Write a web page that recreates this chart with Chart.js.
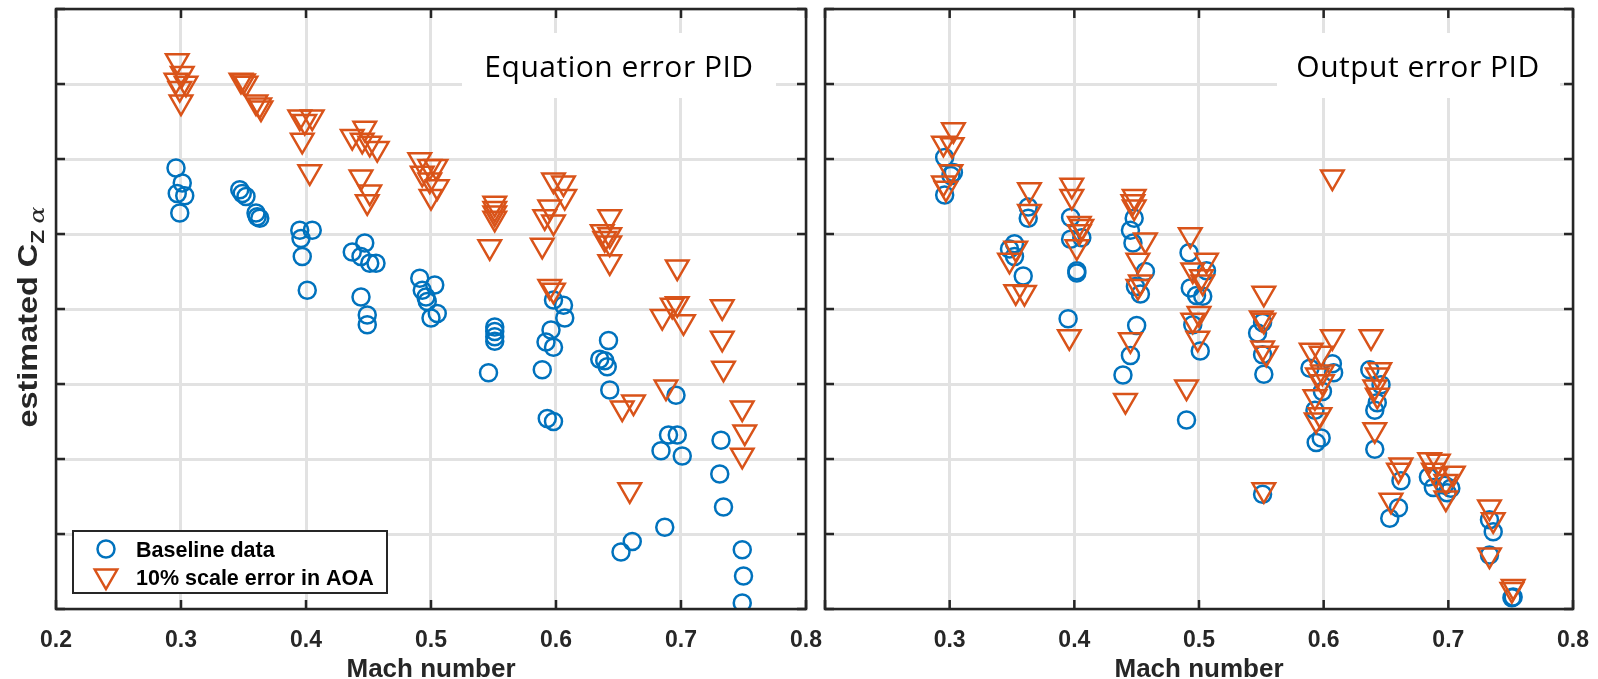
<!DOCTYPE html>
<html>
<head>
<meta charset="utf-8">
<title>Estimated CZ alpha vs Mach number</title>
<script src="https://cdn.jsdelivr.net/npm/chart.js@4.4.0/dist/chart.umd.min.js"></script>
<style>
  html, body { margin: 0; padding: 0; background: #fff; }
  #wrap { position: relative; width: 1598px; height: 679px; overflow: hidden; }
  canvas { position: absolute; top: 0; }
  #eqChart { left: 0; }
  #oeChart { left: 815px; }
</style>
</head>
<body>
<div id="wrap">
  <canvas id="eqChart" width="840" height="679"></canvas>
  <canvas id="oeChart" width="783" height="679"></canvas>
</div>
<script>
// Axis ticks (y axis is unlabelled, arbitrary units)
const machTicks = [0.2, 0.3, 0.4, 0.5, 0.6, 0.7, 0.8];
const czTicks = [0, 1, 2, 3, 4, 5, 6, 7, 8];

// Equation error PID - baseline data
const eqBaseMach = [0.296, 0.301, 0.297, 0.303, 0.299, 0.347, 0.349, 0.352, 0.360, 0.361, 0.363,
  0.395, 0.405, 0.396, 0.397, 0.401, 0.447, 0.437, 0.444, 0.451, 0.456, 0.444, 0.449, 0.449,
  0.491, 0.503, 0.493, 0.496, 0.497, 0.505, 0.500, 0.551, 0.551, 0.551, 0.551, 0.546,
  0.598, 0.606, 0.607, 0.596, 0.592, 0.598, 0.589, 0.593, 0.598, 0.642, 0.635, 0.639, 0.641, 0.643,
  0.661, 0.652, 0.696, 0.690, 0.697, 0.684, 0.701, 0.687, 0.732, 0.731, 0.734, 0.749, 0.750, 0.749];
const eqBaseCz = [5.88, 5.68, 5.54, 5.51, 5.28, 5.59, 5.54, 5.50, 5.28, 5.23, 5.21,
  5.05, 5.05, 4.94, 4.70, 4.25, 4.88, 4.76, 4.70, 4.61, 4.61, 4.16, 3.92, 3.79,
  4.41, 4.32, 4.25, 4.16, 4.10, 3.94, 3.88, 3.76, 3.70, 3.63, 3.57, 3.15,
  4.12, 4.05, 3.88, 3.72, 3.56, 3.49, 3.19, 2.54, 2.50, 3.58, 3.33, 3.31, 3.23, 2.92,
  0.90, 0.76, 2.85, 2.32, 2.32, 2.11, 2.04, 1.09, 2.25, 1.80, 1.36, 0.79, 0.44, 0.08];

// Equation error PID - 10% scale error in AOA
const eqErrMach = [0.297, 0.301, 0.296, 0.304, 0.299, 0.300, 0.348, 0.350, 0.352, 0.360, 0.363, 0.364,
  0.395, 0.405, 0.399, 0.397, 0.403, 0.447, 0.437, 0.445, 0.451, 0.457, 0.444, 0.451, 0.449,
  0.491, 0.499, 0.504, 0.493, 0.499, 0.505, 0.500, 0.551, 0.551, 0.551, 0.551, 0.547,
  0.598, 0.606, 0.607, 0.595, 0.591, 0.598, 0.589, 0.595, 0.598,
  0.643, 0.637, 0.643, 0.639, 0.643, 0.643, 0.653, 0.662, 0.659,
  0.697, 0.693, 0.697, 0.685, 0.702, 0.688, 0.733, 0.733, 0.734, 0.749, 0.751, 0.749];
const eqErrCz = [7.31, 7.14, 7.05, 7.01, 6.94, 6.76, 7.05, 7.04, 7.01, 6.76, 6.72, 6.68,
  6.56, 6.56, 6.50, 6.25, 5.83, 6.41, 6.30, 6.25, 6.21, 6.14, 5.76, 5.56, 5.43,
  5.99, 5.90, 5.90, 5.81, 5.72, 5.63, 5.50, 5.41, 5.34, 5.28, 5.21, 4.83,
  5.72, 5.68, 5.50, 5.36, 5.23, 5.16, 4.85, 4.30, 4.25,
  5.23, 5.03, 4.99, 4.94, 4.88, 4.63, 2.68, 2.76, 1.59,
  4.56, 4.05, 4.07, 3.90, 3.83, 2.96, 4.03, 3.61, 3.21, 2.68, 2.36, 2.05];

// Output error PID - baseline data
const oeBaseMach = [0.296, 0.303, 0.301, 0.296, 0.363, 0.363, 0.352, 0.348, 0.352, 0.359,
  0.397, 0.397, 0.406, 0.402, 0.402, 0.395, 0.448, 0.445, 0.447, 0.457, 0.449, 0.453, 0.450, 0.445, 0.439,
  0.492, 0.506, 0.493, 0.498, 0.503, 0.495, 0.501, 0.490, 0.551, 0.547, 0.551, 0.552, 0.551,
  0.589, 0.607, 0.608, 0.599, 0.593, 0.598, 0.594, 0.637, 0.646, 0.643, 0.641, 0.641,
  0.662, 0.660, 0.653, 0.684, 0.688, 0.697, 0.702, 0.699, 0.733, 0.736, 0.733, 0.752, 0.751];
const oeBaseCz = [6.02, 5.82, 5.78, 5.52, 5.36, 5.21, 4.87, 4.80, 4.70, 4.44,
  5.22, 4.93, 4.95, 4.51, 4.48, 3.87, 5.21, 5.05, 4.88, 4.50, 4.30, 4.20, 3.78, 3.38, 3.12,
  4.75, 4.51, 4.28, 4.18, 4.17, 3.79, 3.44, 2.52, 3.82, 3.68, 3.39, 3.13, 1.53,
  3.21, 3.27, 3.15, 2.90, 2.65, 2.28, 2.22, 3.19, 2.99, 2.75, 2.65, 2.13,
  1.71, 1.35, 1.21, 1.76, 1.62, 1.65, 1.61, 1.55, 1.19, 1.03, 0.72, 0.16, 0.15];

// Output error PID - 10% scale error in AOA
const oeErrMach = [0.303, 0.295, 0.302, 0.301, 0.295, 0.297, 0.364, 0.364, 0.353, 0.348, 0.353, 0.360,
  0.398, 0.398, 0.404, 0.406, 0.404, 0.402, 0.396, 0.448, 0.447, 0.448, 0.457, 0.451, 0.453, 0.451, 0.445, 0.441,
  0.493, 0.506, 0.495, 0.502, 0.503, 0.500, 0.495, 0.499, 0.490, 0.552, 0.550, 0.552, 0.551, 0.554, 0.552,
  0.607, 0.607, 0.590, 0.598, 0.599, 0.595, 0.599, 0.593, 0.597, 0.594,
  0.638, 0.645, 0.643, 0.641, 0.643, 0.641, 0.662, 0.660, 0.654,
  0.685, 0.692, 0.688, 0.690, 0.704, 0.698, 0.698, 0.733, 0.736, 0.733, 0.752, 0.751];
const oeErrCz = [6.39, 6.21, 6.19, 5.83, 5.68, 5.61, 5.59, 5.30, 4.81, 4.65, 4.23, 4.22,
  5.65, 5.50, 5.14, 5.10, 5.03, 4.83, 3.63, 5.50, 5.43, 5.36, 4.92, 4.65, 4.36, 4.30, 3.59, 2.78,
  4.99, 4.65, 4.52, 4.43, 4.36, 3.94, 3.85, 3.61, 2.96, 4.21, 3.88, 3.85, 3.48, 3.41, 1.59,
  5.76, 3.63, 3.45, 3.41, 3.16, 3.12, 3.03, 2.83, 2.59, 2.52,
  3.63, 3.19, 3.12, 2.96, 2.85, 2.39, 1.92, 1.85, 1.45,
  1.99, 1.97, 1.85, 1.79, 1.81, 1.70, 1.48, 1.36, 1.19, 0.72, 0.30, 0.26];

const seriesNames = ['Baseline data', '10% scale error in AOA'];

const INK = '#262626';
const BLUE = '#0072BD';
const ORANGE = '#D95319';
const GRID = '#e2e2e2';
const SANS = '"Liberation Sans", Arial, sans-serif';

function toPoints(xs, ys) {
  return xs.map((x, i) => ({ x: x, y: ys[i] }));
}

// hand-drawn markers for the legend
function drawCircle(ctx, x, y, r) {
  ctx.beginPath();
  ctx.arc(x, y, r, 0, Math.PI * 2);
  ctx.stroke();
}
function drawDownTriangle(ctx, x, y, r) {
  const h = r * Math.sqrt(3) / 2;
  ctx.beginPath();
  ctx.moveTo(x, y + r);
  ctx.lineTo(x - h, y - r / 2);
  ctx.lineTo(x + h, y - r / 2);
  ctx.closePath();
  ctx.stroke();
}

// white label box in the upper right of each panel
const panelLabel = {
  id: 'panelLabel',
  beforeDatasetsDraw(chart, args, opts) {
    const ctx = chart.ctx;
    const [bx, by, bw, bh] = opts.box;
    ctx.save();
    ctx.fillStyle = '#fff';
    ctx.fillRect(bx, by, bw, bh);
    ctx.fillStyle = '#000';
    ctx.font = '30px "Open Sans", "Noto Sans", sans-serif';
    ctx.letterSpacing = '0.5px';
    ctx.textAlign = 'center';
    ctx.textBaseline = 'alphabetic';
    ctx.fillText(opts.text, opts.cx, opts.baseline);
    ctx.restore();
  }
};

// box around the axes with inward ticks on every side
const axesBox = {
  id: 'axesBox',
  afterDatasetsDraw(chart) {
    const { ctx, chartArea: a, scales } = chart;
    const len = 9;
    ctx.save();
    ctx.strokeStyle = INK;
    ctx.lineWidth = 2.5;
    ctx.beginPath();
    machTicks.forEach(v => {
      const px = scales.x.getPixelForValue(v);
      ctx.moveTo(px, a.bottom); ctx.lineTo(px, a.bottom - len);
      ctx.moveTo(px, a.top); ctx.lineTo(px, a.top + len);
    });
    czTicks.forEach(v => {
      const py = scales.y.getPixelForValue(v);
      ctx.moveTo(a.left, py); ctx.lineTo(a.left + len, py);
      ctx.moveTo(a.right, py); ctx.lineTo(a.right - len, py);
    });
    ctx.stroke();
    ctx.strokeRect(a.left, a.top, a.right - a.left, a.bottom - a.top);

    // x axis title
    ctx.fillStyle = INK;
    ctx.font = 'bold 26px ' + SANS;
    ctx.textAlign = 'center';
    ctx.textBaseline = 'alphabetic';
    ctx.fillText('Mach number', (a.left + a.right) / 2, 677);
    ctx.restore();
  }
};

// legend box inside the left panel
const markerLegend = {
  id: 'markerLegend',
  afterDraw(chart) {
    const ctx = chart.ctx;
    ctx.save();
    ctx.fillStyle = '#fff';
    ctx.fillRect(73, 531, 314, 62);
    ctx.strokeStyle = INK;
    ctx.lineWidth = 2;
    ctx.strokeRect(73, 531, 314, 62);
    ctx.lineWidth = 2.5;
    ctx.strokeStyle = BLUE;
    drawCircle(ctx, 106, 549, 8.5);
    ctx.strokeStyle = ORANGE;
    drawDownTriangle(ctx, 106, 576, 13);
    ctx.fillStyle = '#000';
    ctx.font = 'bold 21.5px ' + SANS;
    ctx.textAlign = 'left';
    ctx.textBaseline = 'alphabetic';
    ctx.fillText(seriesNames[0], 136, 557);
    ctx.fillText(seriesNames[1], 136, 585);
    ctx.restore();
  }
};

// rotated y axis title: estimated C_Z alpha
const yTitle = {
  id: 'yTitle',
  afterDraw(chart) {
    const { ctx, chartArea: a } = chart;
    const mainFont = 'bold 27px ' + SANS;
    const subFont = 'bold 19px ' + SANS;
    const greekFont = 'italic 21px "DejaVu Serif", serif';
    const stretch = 1.2;
    ctx.save();
    ctx.font = mainFont;
    const wMain = ctx.measureText('estimated C').width;
    ctx.font = subFont;
    const wSub = ctx.measureText('Z ').width;
    ctx.font = greekFont;
    const wGreek = ctx.measureText('α').width;
    const total = wMain + wSub + wGreek;
    ctx.translate(37, (a.top + a.bottom) / 2 + 8);
    ctx.rotate(-Math.PI / 2);
    ctx.scale(stretch, 1);
    ctx.fillStyle = INK;
    ctx.textAlign = 'left';
    ctx.textBaseline = 'alphabetic';
    let x0 = -total / 2;
    ctx.font = mainFont;
    ctx.fillText('estimated C', x0, 0);
    x0 += wMain;
    ctx.font = subFont;
    ctx.fillText('Z ', x0, 7);
    x0 += wSub;
    ctx.font = greekFont;
    ctx.fillText('α', x0, 7);
    ctx.restore();
  }
};

function makePanel(canvasId, base, err, cfg) {
  const tickFont = { family: SANS, size: 23, weight: 'bold' };
  return new Chart(document.getElementById(canvasId), {
    type: 'scatter',
    data: {
      datasets: [
        {
          label: seriesNames[0],
          data: toPoints(base[0], base[1]),
          pointStyle: 'circle',
          pointRadius: 8.5,
          borderColor: BLUE,
          backgroundColor: 'rgba(0,0,0,0)',
          borderWidth: 2.5,
          order: 2
        },
        {
          label: seriesNames[1],
          data: toPoints(err[0], err[1]),
          pointStyle: 'triangle',
          rotation: 180,
          pointRadius: 13,
          borderColor: ORANGE,
          backgroundColor: 'rgba(0,0,0,0)',
          borderWidth: 2.5,
          order: 1
        }
      ]
    },
    options: {
      responsive: false,
      animation: false,
      devicePixelRatio: 1,
      events: [],
      layout: { autoPadding: false, padding: { top: 9, right: cfg.padRight, left: 0, bottom: 0 } },
      plugins: {
        legend: { display: false },
        tooltip: { enabled: false },
        panelLabel: cfg.label
      },
      scales: {
        x: {
          type: 'linear',
          min: 0.2,
          max: 0.8,
          afterBuildTicks: s => { s.ticks = machTicks.map(v => ({ value: v })); },
          afterFit: s => {
            // fixed axis height; the end labels may run past the plot edges
            s.height = 70;
            s.paddingLeft = 0;
            s.paddingRight = 0;
          },
          grid: { color: GRID, lineWidth: 3, drawTicks: false },
          border: { display: false },
          ticks: {
            padding: 18,
            color: INK,
            font: tickFont,
            maxRotation: 0,
            autoSkip: false,
            callback: v => (cfg.hideFirstTick && v === machTicks[0]) ? '' : v.toFixed(1)
          }
        },
        y: {
          type: 'linear',
          min: 0,
          max: 8,
          afterBuildTicks: s => { s.ticks = czTicks.map(v => ({ value: v })); },
          afterFit: s => { s.width = cfg.yWidth; },
          grid: { color: GRID, lineWidth: 3, drawTicks: false },
          border: { display: false },
          ticks: { display: false }
        }
      }
    },
    plugins: cfg.plugins
  });
}

makePanel('eqChart', [eqBaseMach, eqBaseCz], [eqErrMach, eqErrCz], {
  padRight: 34,
  yWidth: 56,
  hideFirstTick: false,
  label: { text: 'Equation error PID', box: [462, 33, 314, 65], cx: 619, baseline: 77 },
  plugins: [panelLabel, axesBox, markerLegend, yTitle]
});

makePanel('oeChart', [oeBaseMach, oeBaseCz], [oeErrMach, oeErrCz], {
  padRight: 25,
  yWidth: 10,
  hideFirstTick: true,
  label: { text: 'Output error PID', box: [462, 33, 283, 65], cx: 603, baseline: 77 },
  plugins: [panelLabel, axesBox]
});
</script>
</body>
</html>
